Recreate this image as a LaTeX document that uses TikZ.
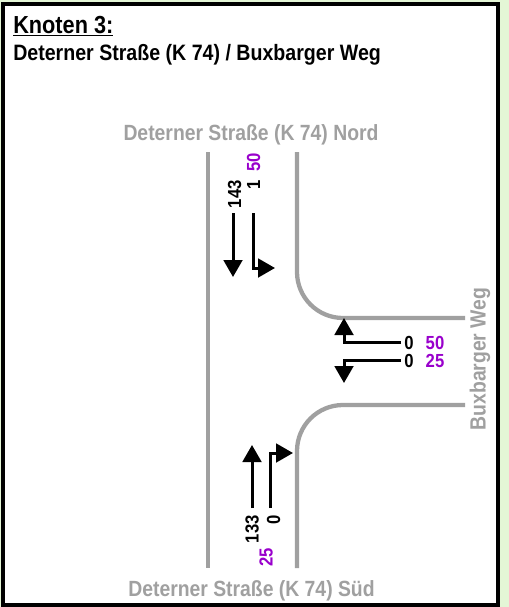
\documentclass[tikz,border=0pt]{standalone}
\usepackage{fontspec}
\setmainfont{Liberation Sans}[FakeStretch=0.88]
\usetikzlibrary{arrows.meta}
\definecolor{roadgrey}{RGB}{160,160,160}
\definecolor{volpurple}{RGB}{153,0,204}
\definecolor{mapgreen}{RGB}{228,246,214}
\tikzset{
  road/.style={draw=roadgrey, line width=3.2pt},
  roadlabel/.style={text=roadgrey, font=\fontsize{16.5}{18}\selectfont\bfseries, inner sep=0pt},
  vol/.style={text=black, font=\fontsize{14.2}{15}\selectfont\bfseries, inner sep=0pt},
  pvol/.style={text=volpurple, font=\fontsize{14.2}{15}\selectfont\bfseries, inner sep=0pt},
  flow/.style={draw=black, line width=2.25pt, line join=miter, -{Triangle[length=12.75pt,width=14pt]}},
}
\begin{document}
\begin{tikzpicture}[x=0.75pt,y=-0.75pt]
\useasboundingbox (0,0) rectangle (509,607);
\fill[mapgreen] (0,0) rectangle (509,607);
\draw[line width=3pt, fill=white] (3,4) rectangle (498,605);
% titles
\node[anchor=base west, inner sep=0pt, font=\fontsize{18.5}{20}\selectfont\bfseries] (title) at (13,33) {\underline{Knoten 3:}};
\node[anchor=base west, inner sep=0pt, font=\fontsize{16.7}{18}\selectfont\bfseries] (subtitle) at (13,60) {Deterner Straße (K 74) / Buxbarger Weg};
% roads
\draw[road] (208,152) -- (208,568);
\draw[road, rounded corners=34.5pt] (297,152) -- (297,318) -- (465,318);
\draw[road, rounded corners=34.5pt] (465,405) -- (297,405) -- (297,568);
% road labels
\node[roadlabel, anchor=base] (nord) at (251,140) {Deterner Straße (K 74) Nord};
\node[roadlabel, anchor=base] (sued) at (251.5,596) {Deterner Straße (K 74) Süd};
\node[roadlabel, rotate=90, anchor=center] (ost) at (480,359) {Buxbarger Weg};
% north volumes
\node[vol, rotate=90, anchor=east] (n143) at (234.5,180) {143};
\node[vol, rotate=90, anchor=east] (n1) at (253.5,180) {1};
\node[pvol, rotate=90, anchor=center] (n50) at (253.5,162.5) {50};
% east volumes
\node[vol, anchor=center] (e0a) at (409,342.5) {0};
\node[pvol, anchor=center] (e50) at (435,342.5) {50};
\node[vol, anchor=center] (e0b) at (409,361) {0};
\node[pvol, anchor=center] (e25) at (435,361) {25};
% south volumes
\node[vol, rotate=90, anchor=east] (s133) at (252,515) {133};
\node[vol, rotate=90, anchor=east] (s0) at (273.5,515) {0};
\node[pvol, rotate=90, anchor=center] (s25) at (266,557.5) {25};
% arrow coordinates
\coordinate (na1) at (233,213); \coordinate (nb1) at (233,277);
\coordinate (na2) at (253,213); \coordinate (nc2) at (253,268); \coordinate (nb2) at (275,268);
\coordinate (ea1) at (401,342); \coordinate (ec1) at (344,342); \coordinate (eb1) at (344,318);
\coordinate (ea2) at (401,360); \coordinate (ec2) at (344,360); \coordinate (eb2) at (344,383);
\coordinate (sa1) at (252,508); \coordinate (sb1) at (252,445);
\coordinate (sa2) at (270,508); \coordinate (sc2) at (270,453); \coordinate (sb2) at (293,453);
\draw[flow] (na1) -- (nb1);
\draw[flow] (na2) -- (nc2) -- (nb2);
\draw[flow] (ea1) -- (ec1) -- (eb1);
\draw[flow] (ea2) -- (ec2) -- (eb2);
\draw[flow] (sa1) -- (sb1);
\draw[flow] (sa2) -- (sc2) -- (sb2);
\end{tikzpicture}
\end{document}
